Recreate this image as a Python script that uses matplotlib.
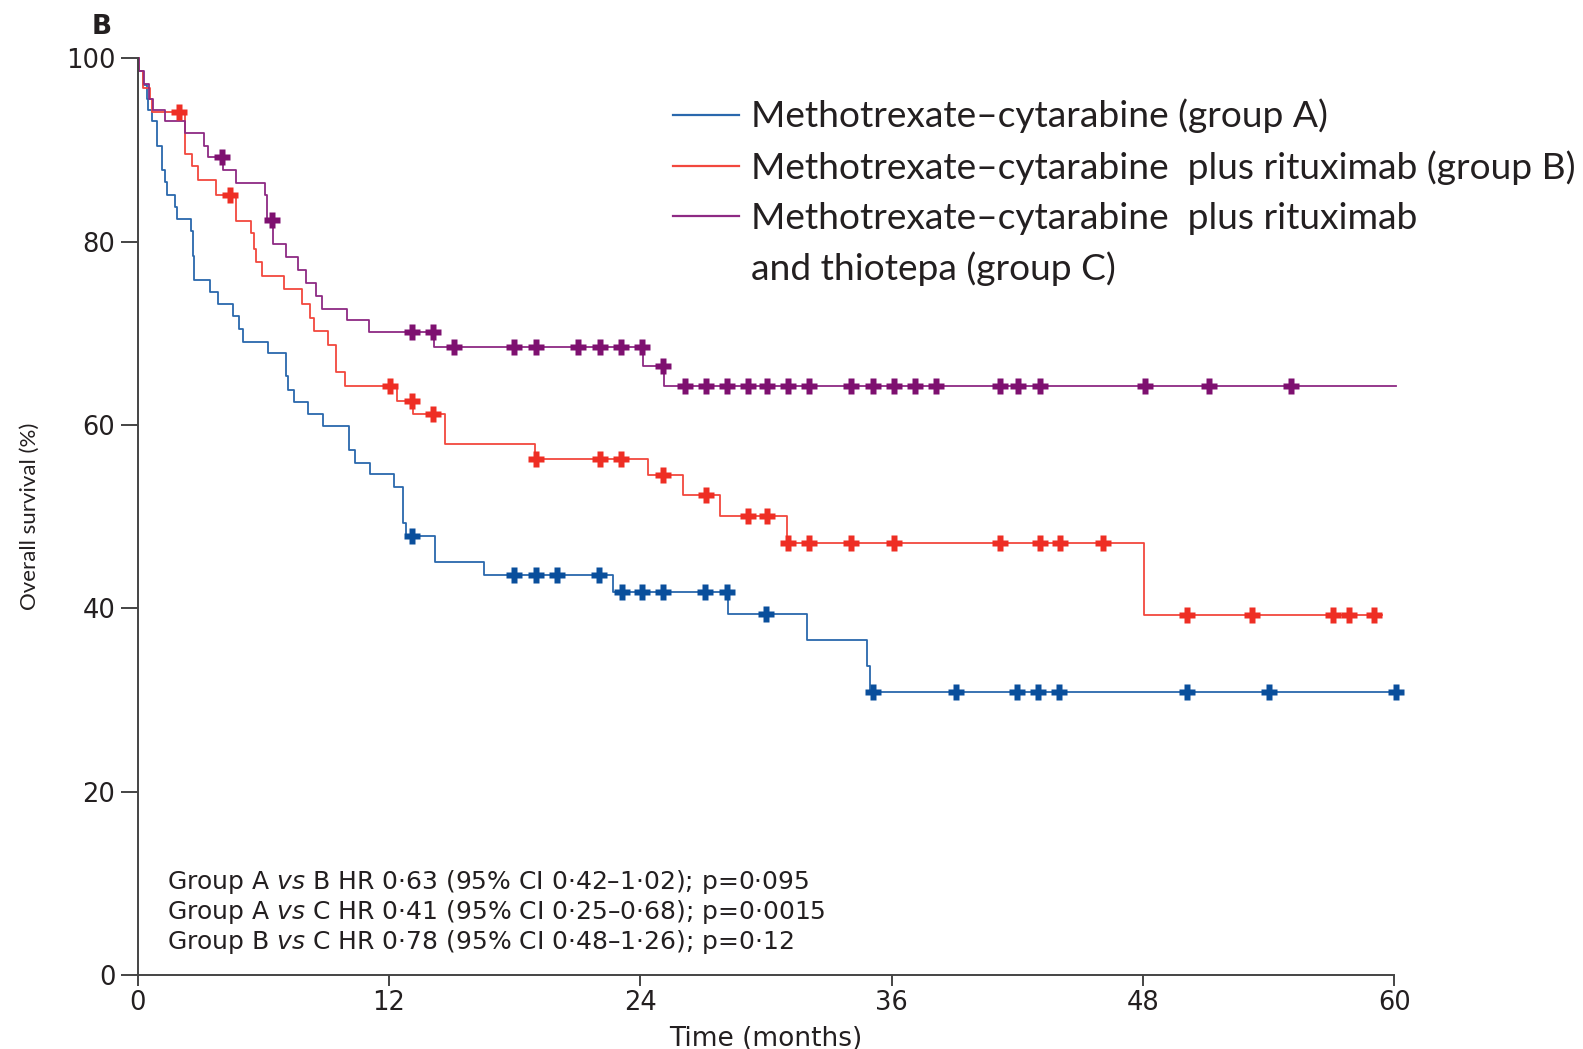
import numpy as np
import matplotlib
matplotlib.use("Agg")
import matplotlib.pyplot as plt
from matplotlib.lines import Line2D


# step data (time in months, survival % after each drop)
times_a = [0.05, 0.27, 0.43, 0.51, 0.67, 0.91, 1.15, 1.30, 1.38, 1.78, 1.86, 2.55, 2.63,
           2.70, 3.45, 3.85, 4.57, 4.85, 5.04, 6.24, 7.08, 7.19, 7.46, 8.15, 8.86, 10.11,
           10.38, 11.09, 12.25, 12.65, 12.81, 14.2, 16.54, 22.71, 28.2, 31.95, 34.84, 34.97]
surv_a = [98.6, 97.1, 95.6, 94.4, 93.1, 90.4, 87.8, 86.5, 85.1, 83.8, 82.5, 81.1, 78.4,
          75.8, 74.5, 73.2, 71.9, 70.5, 69.1, 67.8, 65.3, 63.8, 62.5, 61.2, 59.9, 57.3,
          55.9, 54.6, 53.2, 49.3, 47.9, 45.1, 43.6, 41.8, 39.4, 36.5, 33.7, 30.9]
cens_a = [13.08, 17.99, 19.02, 20.01, 22.04, 23.11, 24.1, 25.1, 27.1, 28.13, 29.99, 35.1,
          39.08, 42.0, 43.0, 43.98, 50.1, 54.04, 60.1]
end_a = 60.4

times_b = [0.05, 0.25, 0.59, 0.67, 2.26, 2.61, 2.9, 3.74, 4.69, 5.41, 5.55, 5.65, 5.92,
           7.0, 7.86, 8.23, 8.42, 9.1, 9.45, 9.9, 12.37, 13.16, 14.68, 18.97, 24.38, 26.03,
           27.78, 31.0, 48.06]
surv_b = [98.6, 96.8, 95.5, 94.1, 89.5, 88.2, 86.7, 85.1, 82.2, 80.9, 79.2, 77.8, 76.3,
          74.8, 73.2, 71.7, 70.2, 68.7, 65.8, 64.3, 62.6, 61.2, 57.9, 56.3, 54.5, 52.4,
          50.1, 47.1, 39.3]
cens_b = [1.99, 4.41, 12.05, 13.08, 14.12, 19.0, 22.08, 23.07, 25.1, 27.12, 29.16, 30.04,
          31.04, 32.03, 34.05, 36.09, 41.18, 43.06, 44.04, 46.1, 50.12, 53.2, 57.08, 57.82,
          59.05]
end_b = 59.4

times_c = [0.05, 0.3, 0.55, 0.75, 1.3, 2.26, 3.17, 3.37, 4.05, 4.69, 6.08, 6.16, 6.48,
           7.08, 7.67, 8.04, 8.5, 8.79, 10.01, 11.05, 14.15, 24.13, 25.15]
surv_c = [98.6, 97.2, 95.6, 94.4, 93.1, 91.8, 90.4, 89.2, 87.8, 86.4, 85.1, 82.4, 79.7,
          78.3, 76.9, 75.5, 74.1, 72.7, 71.5, 70.1, 68.5, 66.4, 64.3]
cens_c = [4.01, 6.42, 13.08, 14.12, 15.1, 17.98, 19.02, 21.04, 22.08, 23.08, 24.1, 25.1,
          26.14, 27.12, 28.13, 29.16, 30.04, 31.04, 32.07, 34.07, 35.1, 36.09, 37.12, 38.12,
          41.15, 42.05, 43.06, 48.1, 51.13, 55.08]
end_c = 60.1

labels = ["Methotrexate\u2013cytarabine (group A)",
          "Methotrexate\u2013cytarabine  plus rituximab (group B)",
          "Methotrexate\u2013cytarabine  plus rituximab",
          "and thiotepa (group C)"]
stats = ["Group A $\\it{vs}$ B HR 0\u00b763 (95% CI 0\u00b742\u20131\u00b702); p=0\u00b7095",
         "Group A $\\it{vs}$ C HR 0\u00b741 (95% CI 0\u00b725\u20130\u00b768); p=0\u00b70015",
         "Group B $\\it{vs}$ C HR 0\u00b778 (95% CI 0\u00b748\u20131\u00b726); p=0\u00b712"]

line_cols = ["#2a68ad", "#f2483e", "#8e2a84"]
mark_cols = ["#0a4f9c", "#ee2e24", "#7e1070"]
txt = "#231f20"
narrow = ["Lato", "DejaVu Sans"]

plt.rcParams["mathtext.fontset"] = "custom"
plt.rcParams["mathtext.it"] = "DejaVu Sans:italic"

fig = plt.figure(figsize=(15.83, 10.49), dpi=100)
ax = fig.add_axes([0.087, 0.0705, 0.7938, 0.874])


def km(ax, times, surv, cens, end, lc, mc):
    x = [0] + times + [end]
    y = [100] + surv + [surv[-1]]
    ax.step(x, y, where="post", color=lc, lw=1.3, clip_on=False, zorder=2)
    levels = np.array([100] + surv)
    idx = np.searchsorted(times, cens, side="right")
    ax.plot(cens, levels[idx], ls="none", marker="P", ms=12, mec="none", color=mc,
            clip_on=False, zorder=3)


km(ax, times_a, surv_a, cens_a, end_a, line_cols[0], mark_cols[0])
km(ax, times_b, surv_b, cens_b, end_b, line_cols[1], mark_cols[1])
km(ax, times_c, surv_c, cens_c, end_c, line_cols[2], mark_cols[2])

ax.set_xlim(0, 60)
ax.set_ylim(0, 100)
ax.set_xticks([0, 12, 24, 36, 48, 60])
ax.set_yticks([0, 20, 40, 60, 80, 100])
for s in ["top", "right"]:
    ax.spines[s].set_visible(False)
for s in ["left", "bottom"]:
    ax.spines[s].set_color("#444444")
    ax.spines[s].set_linewidth(1.4)
ax.tick_params(axis="x", length=8, width=1.4, color="#444444", labelsize=18.5,
               labelcolor=txt, pad=3)
ax.tick_params(axis="y", length=12, width=1.4, color="#444444", labelsize=18.5,
               labelcolor=txt, pad=4)
ax.set_xlabel("Time (months)", fontsize=19, color=txt, labelpad=7)
ax.set_ylabel("Overall survival (%)", fontsize=16, color=txt, family=narrow, labelpad=19)

# legend
handles = [Line2D([], [], color=c, lw=1.6) for c in line_cols] + [Line2D([], [], color="none")]
ax.legend(handles, labels, loc="upper left", bbox_to_anchor=(0.405, 0.984), frameon=False,
          prop={"family": narrow, "size": 26.7}, handlelength=1.78, handletextpad=0.33,
          labelspacing=0.45, labelcolor=txt, borderpad=0.2)

for i, s in enumerate(stats):
    ax.text(0.023, 0.101 - i * 0.0325, s, transform=ax.transAxes, fontsize=18,
            color=txt, va="center", ha="left")

fig.text(0.058, 0.974, "B", fontsize=19, fontweight="bold", color=txt, va="center")

fig.savefig("out.png", dpi=100)
